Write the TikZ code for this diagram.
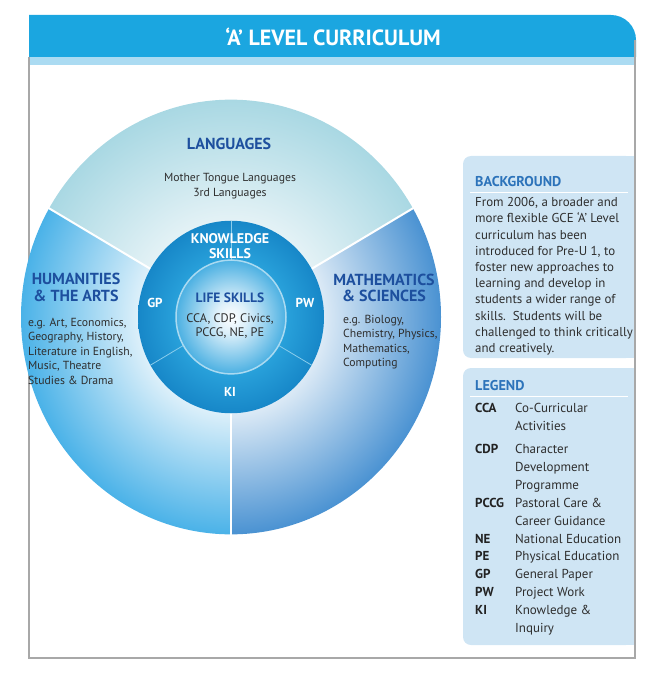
\documentclass[tikz,border=0pt]{standalone}
\usepackage{fontspec}
\usepackage{array}
\setmainfont{PT Sans}
\usetikzlibrary{positioning}
\definecolor{titleblue}{HTML}{1BA6E0}
\definecolor{stripblue}{HTML}{ABDBF2}
\definecolor{framegray}{HTML}{A8A8A8}
\definecolor{boxblue}{HTML}{CFE5F4}
\definecolor{headblue}{HTML}{1D4F9E}
\definecolor{boxhead}{HTML}{2C73BA}
\definecolor{bodygray}{HTML}{2E2E2E}
\definecolor{abbrgray}{HTML}{222222}
\definecolor{langblue}{HTML}{A9D8E3}
\definecolor{langpale}{HTML}{E4F2F6}
\definecolor{humblue}{HTML}{4AB2E8}
\definecolor{humpale}{HTML}{DDF0FA}
\definecolor{mathblue}{HTML}{4A92D2}
\definecolor{mathpale}{HTML}{DCEAF6}
\definecolor{ringhi}{HTML}{2AA3DC}
\definecolor{ringlo}{HTML}{1787C8}
\definecolor{corelight}{HTML}{DDF0FA}
\definecolor{coreedge}{HTML}{4BB0E2}
\pgfdeclareradialshading{langshade}{\pgfpoint{0bp}{0bp}}{color(0bp)=(white); color(11bp)=(langpale); color(25bp)=(langblue); color(50bp)=(langblue)}
\pgfdeclareradialshading{humshade}{\pgfpoint{0bp}{0bp}}{color(0bp)=(white); color(11bp)=(humpale); color(25bp)=(humblue); color(50bp)=(humblue)}
\pgfdeclareradialshading{mathshade}{\pgfpoint{0bp}{0bp}}{color(0bp)=(white); color(11bp)=(mathpale); color(25bp)=(mathblue); color(50bp)=(mathblue)}
\pgfdeclareradialshading{ringshade}{\pgfpoint{0bp}{0bp}}{color(0bp)=(ringhi); color(14bp)=(ringhi); color(25bp)=(ringlo); color(50bp)=(ringlo)}
\pgfdeclareradialshading{coreshade}{\pgfpoint{0bp}{0bp}}{color(0bp)=(white); color(7bp)=(corelight); color(25bp)=(coreedge); color(50bp)=(coreedge)}

\begin{document}
\begin{tikzpicture}[x=1pt,y=-1pt,
    cathead/.style={font=\fontsize{16}{16.5}\selectfont\bfseries,text=headblue,align=center,inner sep=0pt},
    catbody/.style={font=\fontsize{11.7}{14.5}\selectfont,text=bodygray,inner sep=0pt},
    ringlbl/.style={font=\fontsize{14}{15}\selectfont\bfseries,text=white,align=center,inner sep=0pt},
    panelhead/.style={font=\fontsize{14.2}{16}\selectfont\bfseries,text=boxhead,anchor=base west,inner sep=0pt},
    panelbody/.style={font=\fontsize{12.9}{16.2}\selectfont,text=bodygray,anchor=north west,inner sep=0pt}]
  \useasboundingbox (0,0) rectangle (652,679);
  % title bar and frame
  \fill[titleblue] (29,57) -- (29,15) -- (611,15) arc[start angle=-90,end angle=0,radius=25] -- (636,57) -- cycle;
  \fill[stripblue] (29,57) rectangle (636,65);
  \draw[framegray,line width=1.2pt] (29,57) -- (29,658) -- (635,658) -- (635,40);
  \node[font=\fontsize{22}{24}\selectfont\bfseries,text=white] (title) at (333,37) {‘A’ LEVEL CURRICULUM};
  % the wheel
  \begin{scope}[shift={(231,317)},yscale=-1.035]
    \begin{scope}
      \clip (0,0) -- (30:210) arc[start angle=30,end angle=150,radius=210] -- cycle;
      \shade[shading=langshade] (0,0) circle (210);
    \end{scope}
    \begin{scope}
      \clip (0,0) -- (150:210) arc[start angle=150,end angle=270,radius=210] -- cycle;
      \shade[shading=humshade] (0,0) circle (210);
    \end{scope}
    \begin{scope}
      \clip (0,0) -- (270:210) arc[start angle=270,end angle=390,radius=210] -- cycle;
      \shade[shading=mathshade] (0,0) circle (210);
    \end{scope}
    \foreach \a in {30,150,270}
      \draw[white,line width=2pt] (\a:93) -- (\a:211);
    \shade[shading=ringshade] (0,0) circle (93);
    \foreach \a in {90,210,330}
      \draw[white!45!ringhi,line width=0.8pt] (\a:55) -- (\a:93);
    \shade[shading=coreshade] (0,0) circle (55);
    \draw[white!60!ringhi,line width=1.5pt] (0,0) circle (55);
  \end{scope}
  % wheel labels
  \node[cathead] (langhead) at (229,144) {LANGUAGES};
  \node[catbody,align=center] (langbody) at (230,186) {Mother Tongue Languages\\3rd Languages};
  \node[cathead] (humhead) at (76,287.5) {HUMANITIES\\\& THE ARTS};
  \node[catbody,align=left,anchor=west] (humbody) at (28,351) {e.g. Art, Economics,\\Geography, History,\\Literature in English,\\Music, Theatre\\Studies \& Drama};
  \node[cathead] (mathhead) at (384,288) {MATHEMATICS\\\& SCIENCES};
  \node[catbody,align=left,anchor=west] (mathbody) at (343,342) {e.g. Biology,\\Chemistry, Physics,\\Mathematics,\\Computing};
  \node[ringlbl] (kshead) at (230,246) {KNOWLEDGE\\SKILLS};
  \node[ringlbl,font=\fontsize{13}{14}\selectfont\bfseries] (gp) at (155,303) {GP};
  \node[ringlbl,font=\fontsize{13}{14}\selectfont\bfseries] (pw) at (305,303) {PW};
  \node[ringlbl,font=\fontsize{13}{14}\selectfont\bfseries] (ki) at (230,392) {KI};
  \node[cathead,font=\fontsize{13.5}{15}\selectfont\bfseries] (lifehead) at (230,298) {LIFE SKILLS};
  \node[catbody,font=\fontsize{12.4}{14}\selectfont,align=center] (lifebody) at (230,326.5) {CCA, CDP, Civics,\\PCCG, NE, PE};
  % background panel
  \fill[boxblue,rounded corners=8pt] (463,156) rectangle (634,358);
  \fill[boxblue] (600,156) rectangle (634,358);
  \node[panelhead] (bghead) at (475,186) {BACKGROUND};
  \draw[white,line width=1pt] (470,192) -- (628,192);
  \node[panelbody] (bgbody) at (475,195.2) {\begin{tabular}{@{}l@{}}From 2006, a broader and\\more flexible GCE ‘A’ Level\\curriculum has been\\introduced for Pre-U 1, to\\foster new approaches to\\learning and develop in\\students a wider range of\\skills.\ \ Students will be\\challenged to think critically\\and creatively.\end{tabular}};
  % legend panel
  \fill[boxblue,rounded corners=8pt] (463,368) rectangle (634,645);
  \fill[boxblue] (600,368) rectangle (634,645);
  \node[panelhead] (leghead) at (475,390) {LEGEND};
  \draw[white,line width=1pt] (470,396) -- (628,396);
  \node[panelbody,font=\fontsize{13}{17.9}\selectfont] (legbody) at (475,400) {\begin{tabular}{@{}>{\leavevmode\bfseries\color{abbrgray}}p{40pt}@{}l@{}}
    CCA & Co-Curricular\\
        & Activities\\[5pt]
    CDP & Character\\
        & Development\\
        & Programme\\
    PCCG & Pastoral Care \&\\
         & Career Guidance\\
    NE & National Education\\
    PE & Physical Education\\
    GP & General Paper\\
    PW & Project Work\\
    KI & Knowledge \&\\
       & Inquiry
  \end{tabular}};
  \draw[framegray,line width=1.2pt] (635,156) -- (635,645);
\end{tikzpicture}
\end{document}
